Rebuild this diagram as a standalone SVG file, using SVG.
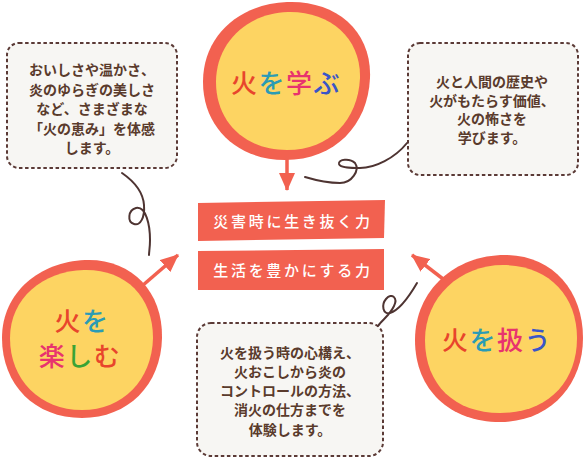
<svg xmlns="http://www.w3.org/2000/svg" width="584" height="458" viewBox="0 0 584 458">
<defs>
<style>
.box{fill:#f7f6f3;stroke:#5b3a36;stroke-width:2;stroke-dasharray:3.5 2.6}
.body{font-family:"Noto Sans CJK JP","Noto Sans",sans-serif;font-size:14px;font-weight:bold;fill:#5a3b2c;text-anchor:middle}
.ring{fill:#f26150}
.core{fill:#fdd462}
.title{font-family:"Noto Sans CJK JP","Noto Sans",sans-serif;font-size:26px;font-weight:500;text-anchor:middle;letter-spacing:1.5px}
.banner{fill:#f26150}
.btext{font-family:"Noto Sans CJK JP","Noto Sans",sans-serif;font-size:15px;font-weight:500;fill:#ffffff;text-anchor:middle;letter-spacing:2.7px}
.arrow{stroke:#f26150;stroke-width:3.5;fill:none;marker-end:url(#ah)}
.curl{stroke:#4e3432;stroke-width:2;fill:none;stroke-linecap:round}
.r{fill:#e8452c}.t{fill:#2a9bb5}.p{fill:#e8336e}.b{fill:#3a55c8}.g{fill:#3aa335}
</style>
<marker id="ah" viewBox="0 0 18 16" refX="17" refY="8" markerWidth="18" markerHeight="16" markerUnits="userSpaceOnUse" orient="auto">
<path d="M0,0 L18,8 L0,16 Z" fill="#f26150"/>
</marker>
</defs>

<g id="box-enjoy-desc">
<rect class="box" x="7" y="43" width="170" height="125" rx="12"/>
<text class="body" x="92" y="75">おいしさや温かさ、</text>
<text class="body" x="92" y="94.5">炎のゆらぎの美しさ</text>
<text class="body" x="92" y="114">など、さまざまな</text>
<text class="body" x="92" y="133.5">「火の恵み」を体感</text>
<text class="body" x="92" y="153">します。</text>
</g>

<g id="box-learn-desc">
<rect class="box" x="408" y="43" width="170" height="132" rx="12"/>
<text class="body" x="492" y="87">火と人間の歴史や</text>
<text class="body" x="492" y="105.5">火がもたらす価値、</text>
<text class="body" x="492" y="124">火の怖さを</text>
<text class="body" x="492" y="143">学びます。</text>
</g>

<g id="box-handle-desc">
<rect class="box" x="197" y="323" width="186" height="133" rx="14"/>
<text class="body" x="290" y="358">火を扱う時の心構え、</text>
<text class="body" x="290" y="377">火おこしから炎の</text>
<text class="body" x="290" y="396">コントロールの方法、</text>
<text class="body" x="290" y="415">消火の仕方までを</text>
<text class="body" x="290" y="435">体験します。</text>
</g>

<g id="banner-survive">
<polygon class="banner" points="198,203 385,200 384,238 198,241"/>
<text class="btext" x="293" y="226.5">災害時に生き抜く力</text>
</g>

<g id="banner-enrich">
<polygon class="banner" points="198,251 384,249 384,290 198,290"/>
<text class="btext" x="293" y="275.5">生活を豊かにする力</text>
</g>

<g id="connectors">
<path class="arrow" d="M287,142 L287,190"/>
<path class="arrow" d="M128,298 L178,255"/>
<path class="arrow" d="M460,292 L412,255"/>
<path class="curl" d="M407,143 C395,158 375,168 360,168 C352,168 340,168 339,164 C338,159 350,158 355,163 C360,170 352,183 340,183 C328,183 315,180 305,177"/>
<path class="curl" d="M122,173 C135,182 143,192 144,205 C145,218 140,226 134,224 C127,222 128,210 136,208 C146,206 150,225 150,240 C150,248 149,252 149,255"/>
<path class="curl" d="M417,283 C410,295 400,310 390,313 C383,315 381,305 386,299 C392,292 398,298 394,306 C390,315 382,320 378,326"/>
</g>

<g id="node-learn">
<path class="ring" d="M287,2 C335,0 372,30 370,78 C368,125 335,160 285,160 C238,160 203,128 203,82 C203,35 240,4 287,2 Z"/>
<path class="core" d="M288,12 C330,11 361,38 360,78 C358,120 330,150 287,150 C245,150 216,122 216,82 C216,42 248,13 288,12 Z"/>
<text class="title" x="286" y="93"><tspan class="r">火</tspan><tspan class="t">を</tspan><tspan class="p">学</tspan><tspan class="b">ぶ</tspan></text>
</g>

<g id="node-enjoy">
<path class="ring" d="M85,260 C130,258 163,290 162,338 C161,385 128,418 82,418 C35,418 2,385 2,338 C2,292 40,262 85,260 Z"/>
<path class="core" d="M84,270 C125,269 153,296 153,338 C152,380 123,410 82,410 C40,410 10,380 10,338 C10,298 43,271 84,270 Z"/>
<text class="title" x="82" y="331"><tspan class="r">火</tspan><tspan class="t">を</tspan></text>
<text class="title" x="80" y="366"><tspan class="p">楽</tspan><tspan class="g">し</tspan><tspan class="r">む</tspan></text>
</g>

<g id="node-handle">
<path class="ring" d="M505,255 C552,255 583,290 583,338 C583,385 550,422 500,422 C450,422 415,390 415,340 C415,290 455,255 505,255 Z"/>
<path class="core" d="M503,265 C548,265 577,295 577,338 C577,382 548,413 500,413 C455,413 425,385 425,340 C425,297 460,265 503,265 Z"/>
<text class="title" x="497" y="350"><tspan class="r">火</tspan><tspan class="t">を</tspan><tspan class="p">扱</tspan><tspan class="b">う</tspan></text>
</g>
</svg>
